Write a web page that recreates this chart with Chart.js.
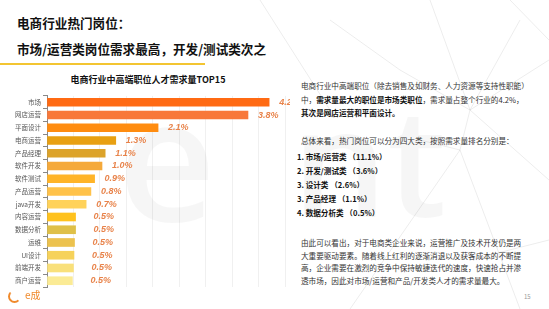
<!DOCTYPE html>
<html>
<head>
<meta charset="utf-8">
<script src="https://cdn.jsdelivr.net/npm/chart.js@4"></script>
<style>
  body { margin: 0; width: 549px; height: 309px; overflow: hidden; background: #fff;
    font-family: "Noto Sans CJK SC", "Noto Sans", sans-serif; color: #333; }
  .abs { position: absolute; white-space: nowrap; }
  #page { position: relative; width: 549px; height: 309px; }
  .h { font-weight: bold; font-size: 12.6px; color: #111; left: 17px; line-height: 16px; }
  .t { font-size: 7.6px; line-height: 10px; left: 301px; color: #333; }
  .b { font-weight: bold; color: #111; }
  .wm { color: rgba(0,0,0,0.035); font-family: "Open Sans", sans-serif; font-weight: 600; }
</style>
</head>
<body>
<div id="page">
  <svg class="abs" style="left:0;top:0" width="549" height="309">
    <g stroke="rgba(0,0,0,0.13)" stroke-width="0.6" fill="none">
      <line x1="430" y1="0" x2="470" y2="110"/>
      <line x1="470" y1="110" x2="549" y2="60"/>
      <line x1="470" y1="110" x2="460" y2="150"/>
      <line x1="460" y1="150" x2="350" y2="309"/>
      <line x1="460" y1="150" x2="520" y2="309"/>
      <line x1="420" y1="140" x2="460" y2="150"/>
      <line x1="470" y1="110" x2="400" y2="70"/>
      <line x1="400" y1="70" x2="330" y2="20"/>
      <line x1="470" y1="110" x2="549" y2="180"/>
      <line x1="510" y1="0" x2="549" y2="40"/>
      <line x1="520" y1="20" x2="470" y2="110"/>
      <line x1="470" y1="260" x2="549" y2="240"/>
      <line x1="260" y1="0" x2="330" y2="110"/>
    </g>
  </svg>
  <div class="abs wm" style="left:118px;top:70px;font-size:170px;line-height:170px;">e</div>
  <div class="abs wm" style="left:292px;top:84px;font-size:150px;line-height:150px;">nt</div>

  <div class="abs h" style="top:15px;">电商行业热门岗位：</div>
  <div class="abs h" style="top:41px;">市场/运营类岗位需求最高，开发/测试类次之</div>
  <div class="abs" style="left:0;top:63px;width:205px;height:2px;background:#F3C531;"></div>

  <div class="abs" style="left:0;top:74px;width:296px;text-align:center;font-size:9px;font-weight:bold;color:#111;line-height:12px;">电商行业中高端职位人才需求量TOP15</div>
  <div class="abs" style="left:0;top:90px;width:290px;height:203px;"><canvas id="c"></canvas></div>

  <div class="abs t" style="top:81px;">电商行业中高端职位（除去销售及如财务、人力资源等支持性职能）</div>
  <div class="abs t" style="top:95px;">中，<span class="b">需求量最大的职位是市场类职位</span>，需求量占整个行业的4.2%，</div>
  <div class="abs t b" style="top:108px;">其次是网店运营和平面设计。</div>
  <div class="abs t" style="top:136px;">总体来看，热门岗位可以分为四大类，按照需求量排名分别是：</div>
  <div class="abs t b" style="top:152px;left:297px;">1. 市场/运营类 （11.1%）</div>
  <div class="abs t b" style="top:166px;left:297px;">2. 开发/测试类 （3.6%）</div>
  <div class="abs t b" style="top:180px;left:297px;">3. 设计类 （2.6%）</div>
  <div class="abs t b" style="top:194px;left:297px;">3. 产品经理 （1.1%）</div>
  <div class="abs t b" style="top:208px;left:297px;">4. 数据分析类 （0.5%）</div>
  <div class="abs t" style="top:238px;">由此可以看出，对于电商类企业来说，运营推广及技术开发仍是两</div>
  <div class="abs t" style="top:251px;">大重要驱动要素。随着线上红利的逐渐消退以及获客成本的不断提</div>
  <div class="abs t" style="top:263px;">高，企业需要在激烈的竞争中保持敏捷迭代的速度，快速抢占并渗</div>
  <div class="abs t" style="top:276px;">透市场，因此对市场/运营和产品/开发类人才的需求量最大。</div>
  <div class="abs" style="left:524px;top:292px;font-size:6px;color:#999;">15</div>

  <div class="abs" style="left:8px;top:290px;width:9px;height:9px;border-radius:50%;border:2px solid #F08A2C;border-right-color:transparent;border-top-color:transparent;"></div>
  <div class="abs" style="left:25px;top:289px;font-size:10px;color:#F08A2C;line-height:12px;">e成</div>
</div>
<script>
const categories = ['市场', '网店运营', '平面设计', '电商运营', '产品经理', '软件开发', '软件测试', '产品运营',
  'java开发', '内容运营', '数据分析', '运维', 'UI设计', '前端开发', '商户运营'];
const shares = [4.2, 3.8, 2.1, 1.3, 1.1, 1.04, 0.9, 0.83, 0.74, 0.54, 0.54, 0.52, 0.51, 0.5, 0.48];
const barColors = ['#FF6A13', '#F8783A', '#FF8C10', '#E8A012', '#DCA32A', '#F5A93A', '#FFB428', '#FFC24A',
  '#FFD25A', '#FFC21E', '#DFC048', '#ECC24E', '#F6D25A', '#F9E07A', '#FBEB95'];

// value labels drawn after the bars
const valueLabels = {
  id: 'valueLabels',
  afterDatasetsDraw(chart) {
    const ctx = chart.ctx;
    const meta = chart.getDatasetMeta(0);
    ctx.save();
    ctx.font = 'italic bold 9px "Liberation Sans", sans-serif';
    ctx.fillStyle = '#E8834A';
    ctx.textBaseline = 'middle';
    meta.data.forEach((bar, i) => {
      const gap = shares[i] < 0.6 ? 18 : 10;
      ctx.fillText(shares[i].toFixed(1) + '%', bar.x + gap, bar.y);
    });
    ctx.restore();
  }
};

new Chart(document.getElementById('c'), {
  type: 'bar',
  data: {
    labels: categories,
    datasets: [{
      data: shares,
      backgroundColor: barColors,
      barThickness: 8
    }]
  },
  options: {
    indexAxis: 'y',
    responsive: true,
    maintainAspectRatio: false,
    animation: false,
    layout: { padding: { top: 3.5, bottom: 3.5, left: 0, right: 5 } },
    plugins: { legend: { display: false }, tooltip: { enabled: false } },
    scales: {
      x: {
        min: 0, max: 4.5,
        ticks: { display: false, stepSize: 0.5 },
        grid: { color: 'rgba(0,0,0,0.06)', drawTicks: false },
        border: { display: false }
      },
      y: {
        afterFit(scale) { scale.width = 47; },
        ticks: { color: '#555', padding: 2, font: { size: 6.5, family: '"Noto Sans CJK SC", sans-serif' } },
        grid: { drawOnChartArea: false, tickLength: 4, color: '#888' },
        border: { color: '#888' }
      }
    }
  },
  plugins: [valueLabels]
});
</script>
</body>
</html>
